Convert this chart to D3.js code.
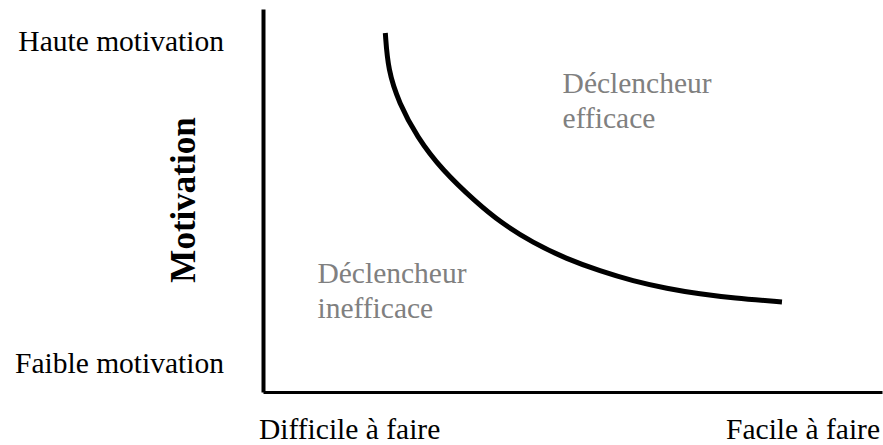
<!DOCTYPE html>
<html>
<head>
<meta charset="utf-8">
<script src="https://cdn.jsdelivr.net/npm/d3@7"></script>
<style>
  html, body { margin: 0; padding: 0; background: #fff; }
  svg { display: block; }
</style>
</head>
<body>
<script>
// Data: ability (x, 0 = difficile .. 100 = facile) and motivation (y, 0 = faible .. 100 = haute)
const curveAbility    = [19.76, 20.19, 21.97, 24.88, 28.92, 34.57, 38.29, 43.62, 49.11, 54.44, 59.77, 65.27, 70.60, 75.93, 83.84];
const curveMotivation = [93.73, 84.07, 75.46, 66.58, 57.96, 49.35, 44.39, 38.90, 34.73, 31.59, 28.98, 27.02, 25.59, 24.54, 23.50];
const yTickLabels = ["Haute motivation", "Faible motivation"];
const yTickValues = [89, 5];
const xTickLabels = ["Difficile à faire", "Facile à faire"];
const yAxisTitle = "Motivation";
const effectiveLabel = ["Déclencheur", "efficace"];
const ineffectiveLabel = ["Déclencheur", "inefficace"];
const effectivePos = [48.4, 78];   // [ability, motivation]
const ineffectivePos = [8.8, 28.5];

const W = 883, H = 445;
const svg = d3.select("body").append("svg").attr("width", W).attr("height", H);

const x = d3.scaleLinear().domain([0, 100]).range([263, 882]);
const y = d3.scaleLinear().domain([0, 100]).range([392, 9]);

const font = "'Liberation Serif', 'Times New Roman', serif";

// Axes (no ticks, just the domain lines)
const yAxis = svg.append("g").attr("transform", `translate(${x(0)},0)`)
  .call(d3.axisLeft(y).tickValues([]).tickSizeOuter(0));
yAxis.select(".domain").attr("stroke", "#000").attr("stroke-width", 4);

const xAxis = svg.append("g").attr("transform", `translate(0,${y(0)})`)
  .call(d3.axisBottom(x).tickValues([]).tickSizeOuter(0));
xAxis.select(".domain").attr("stroke", "#000").attr("stroke-width", 3);

// Curve
const pts = curveAbility.map((a, i) => [a, curveMotivation[i]]);
const line = d3.line().x(d => x(d[0])).y(d => y(d[1])).curve(d3.curveBasis);
svg.append("path").datum(pts).attr("d", line)
  .attr("fill", "none").attr("stroke", "#000").attr("stroke-width", 5);

// Y tick labels
svg.selectAll("text.ylab").data(yTickLabels).enter().append("text")
  .attr("class", "ylab")
  .attr("x", 224)
  .attr("y", (d, i) => y(yTickValues[i]))
  .attr("text-anchor", "end")
  .attr("font-family", font).attr("font-size", 29.5).attr("fill", "#000")
  .text(d => d);

// X tick labels
svg.append("text").attr("x", x(0) - 4).attr("y", 439)
  .attr("text-anchor", "start")
  .attr("font-family", font).attr("font-size", 29.5).attr("fill", "#000")
  .text(xTickLabels[0]);
svg.append("text").attr("x", 880).attr("y", 439)
  .attr("text-anchor", "end")
  .attr("font-family", font).attr("font-size", 29.5).attr("fill", "#000")
  .text(xTickLabels[1]);

// Y axis title
svg.append("text")
  .attr("transform", `translate(195,200) rotate(-90)`)
  .attr("text-anchor", "middle")
  .attr("font-family", font).attr("font-size", 35).attr("font-weight", "bold").attr("fill", "#000")
  .text(yAxisTitle);

// Region labels
function regionLabel(lines, pos) {
  const t = svg.append("text")
    .attr("font-family", font).attr("font-size", 29.5).attr("fill", "#808080");
  lines.forEach((l, i) => {
    t.append("tspan").attr("x", x(pos[0])).attr("y", y(pos[1]) + i * 35).text(l);
  });
}
regionLabel(effectiveLabel, effectivePos);
regionLabel(ineffectiveLabel, ineffectivePos);
</script>
</body>
</html>
